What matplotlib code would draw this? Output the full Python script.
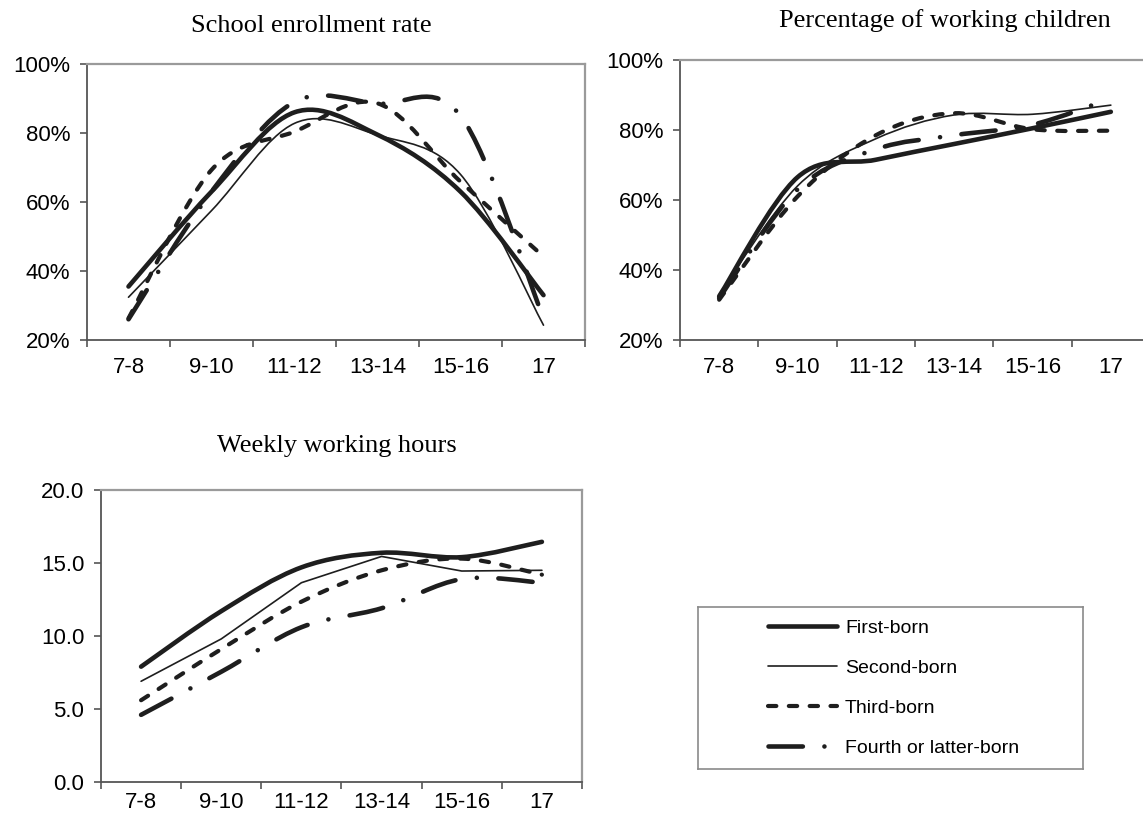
import numpy as np
import matplotlib
matplotlib.use("Agg")
import matplotlib.pyplot as plt
from matplotlib.path import Path
from matplotlib.patches import PathPatch
from matplotlib.lines import Line2D

# --- data ---
age_groups = ['7-8', '9-10', '11-12', '13-14', '15-16', '17']
series_names = ['First-born', 'Second-born', 'Third-born', 'Fourth or latter-born']

# school enrollment rate (%)
enroll_first = [35.5, 63.0, 86.0, 79.5, 63.0, 33.0]
enroll_second = [32.4, 57.5, 82.8, 79.4, 68.0, 24.3]
enroll_third = [26.3, 69.3, 80.4, 88.6, 65.9, 44.2]
enroll_fourth = [26.0, 63.0, 89.0, 88.5, 85.0, 26.3]

# percentage of working children (%)
work_first = [32.5, 66.5, 71.5, 76.0, 80.5, 85.2]
work_second = [33.0, 64.0, 77.5, 84.3, 84.5, 87.1]
work_third = [31.5, 61.0, 78.5, 84.8, 80.2, 79.8]
work_fourth = [32.0, 63.0, 74.5, 78.5, 81.5, 89.0]

# weekly working hours
hours_first = [7.9, 11.7, 14.7, 15.7, 15.4, 16.45]
hours_second = [6.9, 9.8, 13.65, 15.45, 14.45, 14.5]
hours_third = [5.6, 9.1, 12.35, 14.5, 15.3, 14.2]
hours_fourth = [4.6, 7.55, 10.6, 11.9, 13.9, 13.65]

INK = '#1e1e1e'
STYLES = [
    dict(lw=3.3, ls='-'),
    dict(lw=1.2, ls='-'),
    dict(lw=3.0, ls=(0, (2.0, 3.0))),
    dict(lw=3.3, ls=(0, (7.5, 4.7, 0.01, 4.7))),
]

W, H = 1143, 817
SANS = 'Liberation Sans'
SERIF = 'Liberation Serif'


def px_box(x0, y0, x1, y1):
    # pixel box (top-left origin) -> figure fraction rect
    return [x0 / W, 1 - y1 / H, (x1 - x0) / W, (y1 - y0) / H]


def smooth_path(xs, ys):
    # Excel style smoothed line: cubic bezier through every point
    pts = np.column_stack([xs, ys]).astype(float)
    n = len(pts)
    verts = [pts[0]]
    codes = [Path.MOVETO]
    for i in range(n - 1):
        prev = pts[i - 1] if i > 0 else pts[i]
        nxt = pts[i + 2] if i + 2 < n else pts[i + 1]
        c1 = pts[i] + (pts[i + 1] - prev) / 6.0
        c2 = pts[i + 1] - (nxt - pts[i]) / 6.0
        verts += [c1, c2, pts[i + 1]]
        codes += [Path.CURVE4] * 3
    return Path(verts, codes)


def draw_series(ax, values, style, smooth=True):
    x = np.arange(len(age_groups))
    if smooth:
        patch = PathPatch(smooth_path(x, values), facecolor='none', edgecolor=INK,
                          lw=style['lw'], linestyle=style['ls'],
                          capstyle='round', joinstyle='round')
        ax.add_patch(patch)
    else:
        ax.plot(x, values, color=INK, lw=style['lw'], linestyle=style['ls'],
                solid_capstyle='round', dash_capstyle='round')


def style_axes(ax, ymin, ymax, yticks, ylabels, xpad=12):
    ax.set_xlim(-0.5, 5.5)
    ax.set_ylim(ymin, ymax)
    ax.set_xticks(np.arange(-0.5, 6.0, 1.0))
    ax.set_xticklabels([])
    ax.set_xticks(np.arange(len(age_groups)), minor=True)
    ax.set_xticklabels(age_groups, minor=True, fontsize=16, family=SANS)
    ax.tick_params(axis='x', which='major', direction='out', length=5, width=1.2, color='#555555')
    ax.tick_params(axis='x', which='minor', length=0, pad=xpad)
    ax.set_yticks(yticks)
    ax.set_yticklabels(ylabels, fontsize=16, family=SANS)
    ax.tick_params(axis='y', direction='out', length=5, width=1.2, color='#555555', pad=7)
    for side in ['left', 'bottom']:
        ax.spines[side].set_color('#555555')
        ax.spines[side].set_linewidth(1.3)
    for side in ['top', 'right']:
        ax.spines[side].set_color('#9a9a9a')
        ax.spines[side].set_linewidth(1.6)


fig = plt.figure(figsize=(W / 100, H / 100), dpi=100)

pct_ticks = [20, 40, 60, 80, 100]
pct_labels = [f'{t}%' for t in pct_ticks]

# school enrollment
ax1 = fig.add_axes(px_box(87, 64, 585, 340))
style_axes(ax1, 20, 100, pct_ticks, pct_labels)
for vals, st in zip([enroll_first, enroll_second, enroll_third, enroll_fourth], STYLES):
    draw_series(ax1, vals, st)

# working children
ax2 = fig.add_axes(px_box(680, 60, 1150, 340))
style_axes(ax2, 20, 100, pct_ticks, pct_labels)
for vals, st in zip([work_first, work_second, work_third, work_fourth], STYLES):
    draw_series(ax2, vals, st)

# weekly hours
hour_ticks = [0, 5, 10, 15, 20]
ax3 = fig.add_axes(px_box(101, 490, 582, 782))
style_axes(ax3, 0, 20, hour_ticks, [f'{t:.1f}' for t in hour_ticks], xpad=7)
for i, (vals, st) in enumerate(zip([hours_first, hours_second, hours_third, hours_fourth], STYLES)):
    draw_series(ax3, vals, st, smooth=(i != 1))

# titles
fig.text(311 / W, 1 - 32 / H, 'School enrollment rate', ha='center', va='baseline',
         fontsize=19, family=SERIF)
fig.text(945 / W, 1 - 27 / H, 'Percentage of working children', ha='center', va='baseline',
         fontsize=19, family=SERIF)
fig.text(337 / W, 1 - 452 / H, 'Weekly working hours', ha='center', va='baseline',
         fontsize=19, family=SERIF)

# legend in its own framed box
axl = fig.add_axes(px_box(698, 607, 1083, 769))
axl.set_xticks([])
axl.set_yticks([])
for sp in axl.spines.values():
    sp.set_color('#8a8a8a')
    sp.set_linewidth(1.2)
handles = [Line2D([], [], color=INK, lw=st['lw'], linestyle=st['ls'],
                  solid_capstyle='round', dash_capstyle='round') for st in STYLES]
axl.legend(handles, series_names, loc='center left', bbox_to_anchor=(0.182, 0.5),
           frameon=False, borderpad=0, borderaxespad=0, handlelength=3.55,
           handletextpad=0.4, labelspacing=1.15, prop={'family': SANS, 'size': 14})

fig.savefig('out.png', dpi=100)
